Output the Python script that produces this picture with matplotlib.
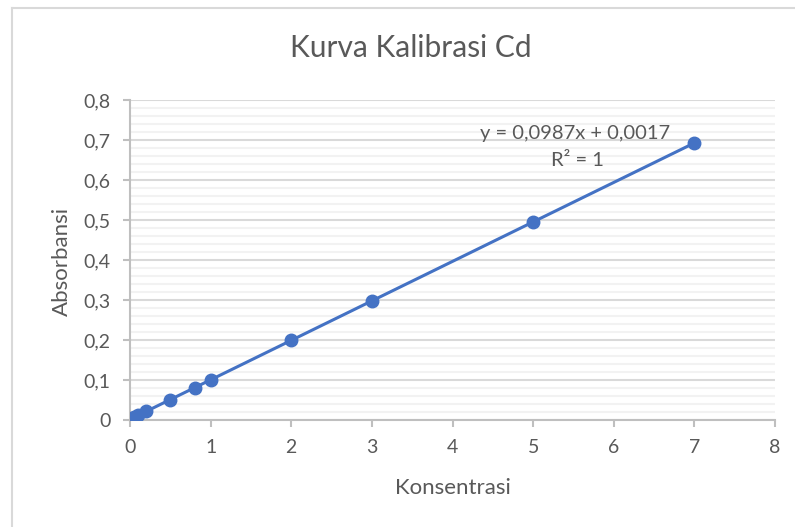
import matplotlib
matplotlib.use("Agg")
import matplotlib.pyplot as plt
from matplotlib.lines import Line2D
from matplotlib.ticker import MultipleLocator, FuncFormatter
import numpy as np

plt.rcParams['font.family'] = ['Lato', 'DejaVu Sans']

# data
konsentrasi = [0.05, 0.1, 0.2, 0.5, 0.8, 1, 2, 3, 5, 7]
absorbansi = [0.0066, 0.0116, 0.0214, 0.051, 0.081, 0.100, 0.199, 0.298, 0.495, 0.693]
slope = 0.0987
intercept = 0.0017

blue = '#4472C4'
grey = '#595959'

fig = plt.figure(figsize=(7.95, 5.27), dpi=100)
ax = fig.add_axes([130/795, 107/527, 645/795, 320/527])

# chart border (left and top edges visible)
fig.add_artist(Line2D([12/795, 12/795], [0, 1 - 8/527], transform=fig.transFigure, color='#D9D9D9', lw=1.5))
fig.add_artist(Line2D([12/795, 1], [1 - 8/527, 1 - 8/527], transform=fig.transFigure, color='#D9D9D9', lw=1.5))

xt = np.array([0, 7])
ax.plot(xt, slope*xt + intercept, color=blue, lw=2.2, zorder=3)
ax.plot(konsentrasi, absorbansi, 'o', color=blue, ms=9, zorder=4)

ax.set_xlim(0, 8)
ax.set_ylim(0, 0.8)
ax.xaxis.set_major_locator(MultipleLocator(1))
ax.yaxis.set_major_locator(MultipleLocator(0.1))
ax.yaxis.set_minor_locator(MultipleLocator(0.02))
fmt = FuncFormatter(lambda v, p: ('%g' % round(v, 2)).replace('.', ','))
ax.yaxis.set_major_formatter(fmt)
ax.xaxis.set_major_formatter(fmt)

ax.grid(axis='y', which='major', color='#D9D9D9', lw=1.5)
ax.grid(axis='y', which='minor', color='#F2F2F2', lw=1.5)
ax.set_axisbelow(True)

for s in ['top', 'right']:
    ax.spines[s].set_visible(False)
for s in ['left', 'bottom']:
    ax.spines[s].set_color('#BFBFBF')
    ax.spines[s].set_linewidth(1.5)
ax.tick_params(axis='both', which='major', color='#BFBFBF', width=1.5, length=5,
               labelsize=14, labelcolor=grey, pad=9)
ax.tick_params(axis='y', which='minor', length=0)

fig.text(411/795, 1 - 48/527, 'Kurva Kalibrasi Cd', ha='center', va='center', fontsize=21.5, color=grey)

ax.set_xlabel('Konsentrasi', fontsize=16, color=grey)
ax.xaxis.set_label_coords(0.5, -(488 - 420)/320)
ax.xaxis.label.set_va('center')
ax.set_ylabel('Absorbansi', fontsize=16, color=grey)
ax.yaxis.set_label_coords(-(130 - 62)/645, 0.494)
ax.yaxis.label.set_va('center')

ax.text(5.52, 0.7175, 'y = 0,0987x + 0,0017', ha='center', va='center', fontsize=14.5, color=grey)
ax.text(5.55, 0.65, 'R² = 1', ha='center', va='center', fontsize=14.5, color=grey)

fig.savefig('out.png', dpi=100, facecolor='white')
